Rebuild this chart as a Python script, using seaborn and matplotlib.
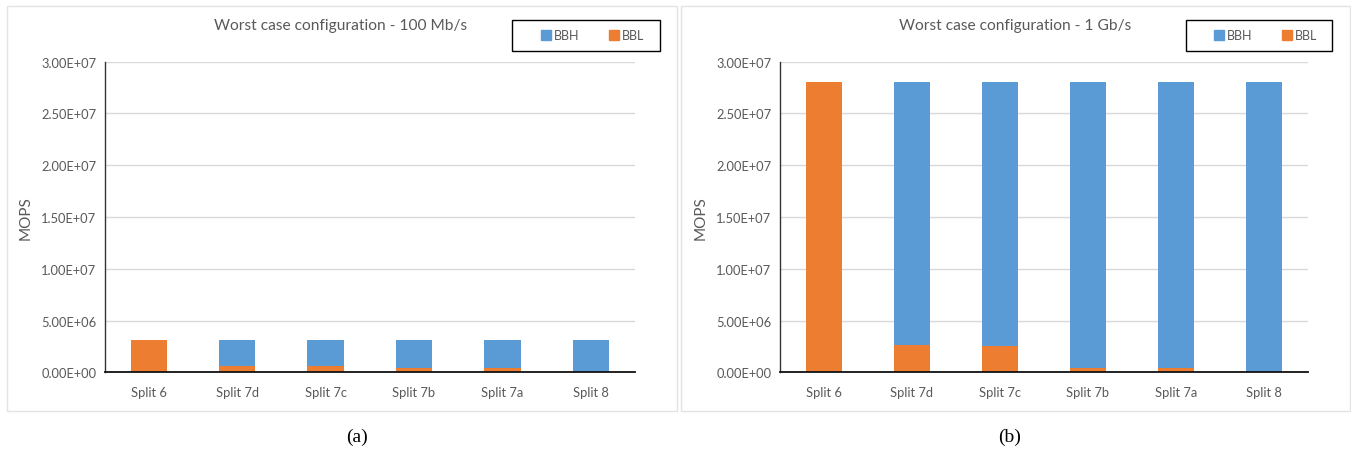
import numpy as np
import pandas as pd
import seaborn as sns
import matplotlib.pyplot as plt
from matplotlib.patches import Rectangle
from matplotlib.lines import Line2D
from matplotlib.ticker import FuncFormatter

# Split options on the x axis
splits = ["Split 6", "Split 7d", "Split 7c", "Split 7b", "Split 7a", "Split 8"]

# 100 Mb/s worst case (MOPS)
bbl_100m = [3.15e6, 0.65e6, 0.58e6, 0.40e6, 0.40e6, 0.0]
bbh_100m = [0.0, 2.50e6, 2.57e6, 2.75e6, 2.75e6, 3.15e6]

# 1 Gb/s worst case (MOPS)
bbl_1g = [2.80e7, 2.67e6, 2.57e6, 0.46e6, 0.46e6, 0.0]
bbh_1g = [0.0, 2.533e7, 2.543e7, 2.754e7, 2.754e7, 2.80e7]

titles = ["Worst case configuration - 100 Mb/s", "Worst case configuration - 1 Gb/s"]
captions = ["(a)", "(b)"]
series_names = ["BBH", "BBL"]

BLUE = "#5B9BD5"
ORANGE = "#ED7D31"
TEXT = "#595959"
GRID = "#D9D9D9"

sns.set_theme(style="white")
plt.rcParams["font.family"] = ["Lato", "DejaVu Sans"]

W, H = 1351, 452
fig = plt.figure(figsize=(W / 100, H / 100), dpi=100)


def fx(px):
    return px / W


def fy(py):
    return 1 - py / H


panels = [
    dict(bbl=bbl_100m, bbh=bbh_100m, ax_l=104.6, ax_r=635, frame=(6.5, 677),
         leg=(512, 660), cap_x=357, title_x=341),
    dict(bbl=bbl_1g, bbh=bbh_1g, ax_l=779.6, ax_r=1308, frame=(681, 1350),
         leg=(1186, 1332), cap_x=1010, title_x=1015),
]

ax_top, ax_bot = 62.7, 373.3

for i, p in enumerate(panels):
    # light panel border
    fl, fr = p["frame"]
    fig.patches.append(Rectangle((fx(fl), fy(412)), fx(fr - fl), (412 - 7) / H,
                                 transform=fig.transFigure, fill=False,
                                 edgecolor="#E3E3E3", linewidth=1.0))

    ax = fig.add_axes([fx(p["ax_l"]), fy(ax_bot), fx(p["ax_r"] - p["ax_l"]),
                       (ax_bot - ax_top) / H])
    df = pd.DataFrame({
        "split": splits,
        "BBL": p["bbl"],
        "BBH": p["bbh"],
    })
    df["total"] = df["BBL"] + df["BBH"]

    sns.barplot(data=df, x="split", y="total", color=BLUE, width=0.41,
                saturation=1, linewidth=0, ax=ax, zorder=3)
    sns.barplot(data=df, x="split", y="BBL", color=ORANGE, width=0.41,
                saturation=1, linewidth=0, ax=ax, zorder=4)

    ax.set_ylim(0, 3.0e7)
    ax.set_xlim(-0.5, 5.5)
    ax.set_yticks(np.arange(0, 3.0e7 + 1, 5e6))
    ax.yaxis.set_major_formatter(FuncFormatter(lambda v, _: "{:.2E}".format(v)))
    ax.grid(axis="y", color=GRID, linewidth=1.0, zorder=0)
    ax.set_axisbelow(True)
    for s in ["top", "right"]:
        ax.spines[s].set_visible(False)
    ax.spines["left"].set_color("#333333")
    ax.spines["left"].set_linewidth(1.0)
    ax.spines["bottom"].set_color("#111111")
    ax.spines["bottom"].set_linewidth(1.3)
    ax.spines["bottom"].set_zorder(6)
    ax.tick_params(axis="both", length=0, labelsize=9.3, colors=TEXT, pad=6)
    ax.tick_params(axis="x", pad=10)
    ax.set_xlabel("")
    ax.set_ylabel("MOPS", fontsize=11, color=TEXT, labelpad=6)

    # title centred over the panel
    fig.text(fx(p["title_x"]), fy(26), titles[i], ha="center",
             va="center", fontsize=11.2, color=TEXT)

    # legend with black box
    ll, lr = p["leg"]
    fig.patches.append(Rectangle((fx(ll), fy(52)), fx(lr - ll), 31 / H,
                                 transform=fig.transFigure, fill=False,
                                 edgecolor="black", linewidth=1.0))
    handles = [Line2D([], [], marker="s", linestyle="none", markersize=6.5,
                      markerfacecolor=c, markeredgecolor=c)
               for c in (BLUE, ORANGE)]
    fig.legend(handles, series_names, loc="center",
               bbox_to_anchor=(fx((ll + lr) / 2 + 6), fy(36.5)), ncol=2,
               frameon=False, fontsize=9, labelcolor=TEXT, handletextpad=0.15,
               columnspacing=2.2, handlelength=1.0)

    # sub-figure caption
    fig.text(fx(p["cap_x"]), fy(437), captions[i], ha="center", va="center",
             fontsize=14, family=["Liberation Serif", "DejaVu Serif"],
             color="black")

fig.savefig("out.png", dpi=100, facecolor="white")
